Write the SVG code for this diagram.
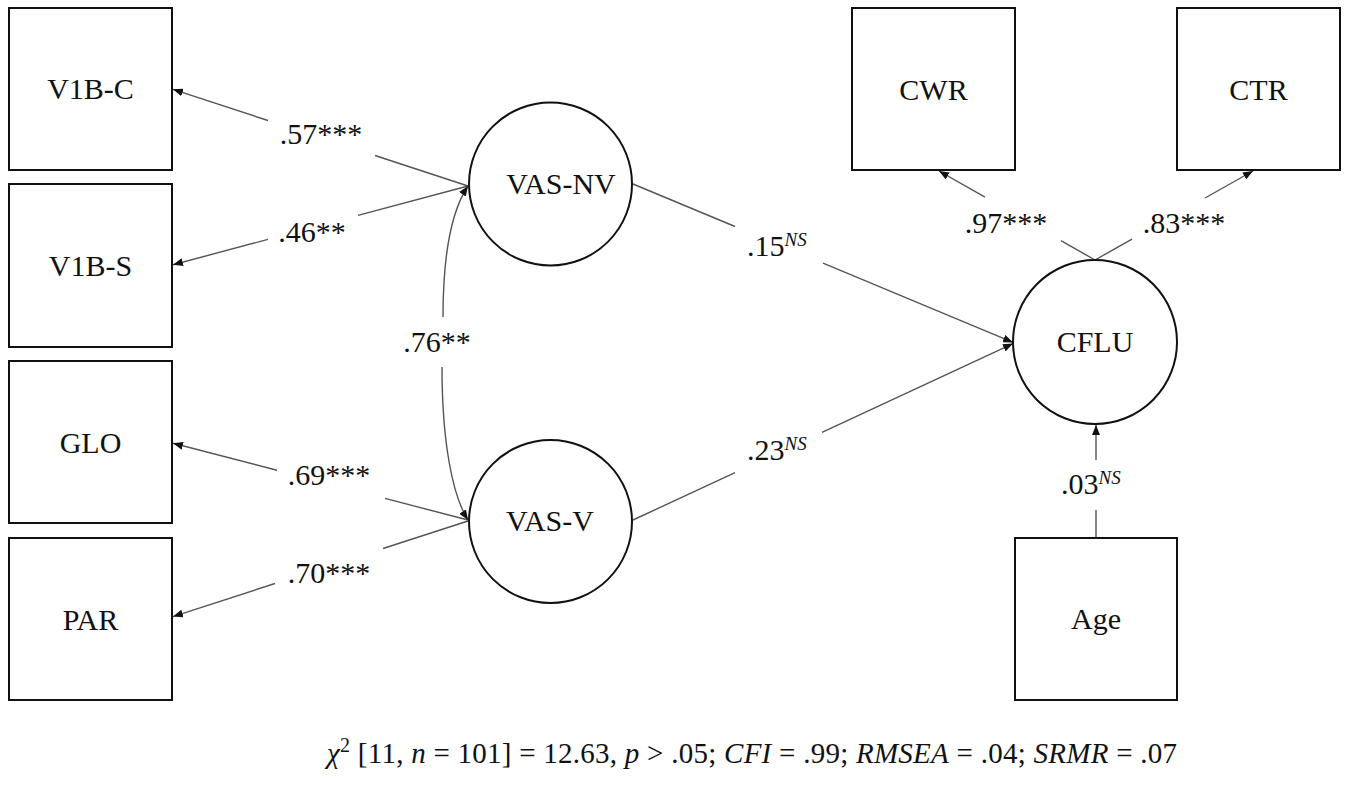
<svg xmlns="http://www.w3.org/2000/svg" width="1350" height="791" viewBox="0 0 1350 791">
<defs>
<style>
.box{fill:#fff;stroke:#111;stroke-width:2}
.lat{fill:#fff;stroke:#111;stroke-width:2}
.lbl{font-family:"Liberation Serif","Times New Roman",serif;font-size:30px;fill:#111}
.mid{text-anchor:middle}
.sup{font-size:19px;font-style:italic}
.it{font-style:italic}
.con{fill:none;stroke:#555;stroke-width:1.4}
</style>
<marker id="ah" viewBox="0 0 10 8" refX="10" refY="4" markerWidth="10" markerHeight="8" markerUnits="userSpaceOnUse" orient="auto-start-reverse">
<path d="M0,0 L10,4 L0,8 z" fill="#111"/>
</marker>
</defs>
<rect width="1350" height="791" fill="#fff"/>

<g id="connectors">
<path class="con" d="M468,186 L375,155.5 M268,120.5 L173,89.3" marker-end="url(#ah)"/>
<path class="con" d="M468,186 L358,215.4 M268,239.4 L173,264.7" marker-end="url(#ah)"/>
<path class="con" d="M468,520 L385,498.4 M277,470.3 L173,443.3" marker-end="url(#ah)"/>
<path class="con" d="M468,521 L383,548.5 M275,583.5 L173,616.6" marker-end="url(#ah)"/>
<path class="con" d="M468,186 C452,210 443,250 443,317 M442,367 C442,440 452,495 468,520" marker-start="url(#ah)" marker-end="url(#ah)"/>
<path class="con" d="M633,184 L735,226.5 M823,263.2 L1013,342.4" marker-end="url(#ah)"/>
<path class="con" d="M633,520 L735,472.7 M822,432.3 L1013,343.6" marker-end="url(#ah)"/>
<path class="con" d="M1095,260 L1061,240.6 M985,197.2 L939,171" marker-end="url(#ah)"/>
<path class="con" d="M1095,260 L1132,239.2 M1205,198 L1253,171" marker-end="url(#ah)"/>
<path class="con" d="M1096,538 L1096,510 M1096,460 L1096,425" marker-end="url(#ah)"/>
</g>

<g id="n-v1bc"><rect class="box" x="9" y="8" width="163" height="162"/><text class="lbl mid" x="90.5" y="99">V1B-C</text></g>
<g id="n-v1bs"><rect class="box" x="9" y="184" width="163" height="163"/><text class="lbl mid" x="90.5" y="276">V1B-S</text></g>
<g id="n-glo"><rect class="box" x="9" y="361" width="163" height="162"/><text class="lbl mid" x="90.5" y="453">GLO</text></g>
<g id="n-par"><rect class="box" x="9" y="538" width="163" height="162"/><text class="lbl mid" x="90.5" y="630">PAR</text></g>

<g id="n-vasnv"><circle class="lat" cx="550.5" cy="184" r="81.5"/><text class="lbl mid" x="561" y="194">VAS-NV</text></g>
<g id="n-vasv"><circle class="lat" cx="550.5" cy="521.5" r="81.5"/><text class="lbl mid" x="550" y="531">VAS-V</text></g>
<g id="n-cflu"><circle class="lat" cx="1095" cy="342" r="82"/><text class="lbl mid" x="1095" y="352">CFLU</text></g>

<g id="n-cwr"><rect class="box" x="852" y="8" width="163" height="162"/><text class="lbl mid" x="933.5" y="100">CWR</text></g>
<g id="n-ctr"><rect class="box" x="1177" y="8" width="163" height="162"/><text class="lbl mid" x="1258.5" y="100">CTR</text></g>
<g id="n-age"><rect class="box" x="1015" y="538" width="162" height="162"/><text class="lbl mid" x="1096" y="629">Age</text></g>

<g id="labels">
<text class="lbl mid" x="321" y="144">.57***</text>
<text class="lbl mid" x="312" y="242">.46**</text>
<text class="lbl mid" x="329" y="485">.69***</text>
<text class="lbl mid" x="329" y="583">.70***</text>
<text class="lbl mid" x="437" y="352">.76**</text>
<text class="lbl" x="747" y="256">.15<tspan class="sup" dy="-10">NS</tspan></text>
<text class="lbl" x="747" y="460">.23<tspan class="sup" dy="-10">NS</tspan></text>
<text class="lbl mid" x="1006" y="233">.97***</text>
<text class="lbl mid" x="1184" y="233">.83***</text>
<text class="lbl" x="1061" y="494">.03<tspan class="sup" dy="-10">NS</tspan></text>
</g>

<g id="fit">
<text class="lbl" x="327" y="763" textLength="850" lengthAdjust="spacing" style="font-size:29px"><tspan class="it">χ</tspan><tspan font-size="20" dy="-11">2</tspan><tspan dy="11"> [11, </tspan><tspan class="it">n</tspan> = 101] = 12.63, <tspan class="it">p</tspan> &gt; .05; <tspan class="it">CFI</tspan> = .99; <tspan class="it">RMSEA</tspan> = .04; <tspan class="it">SRMR</tspan> = .07</text>
</g>
</svg>
